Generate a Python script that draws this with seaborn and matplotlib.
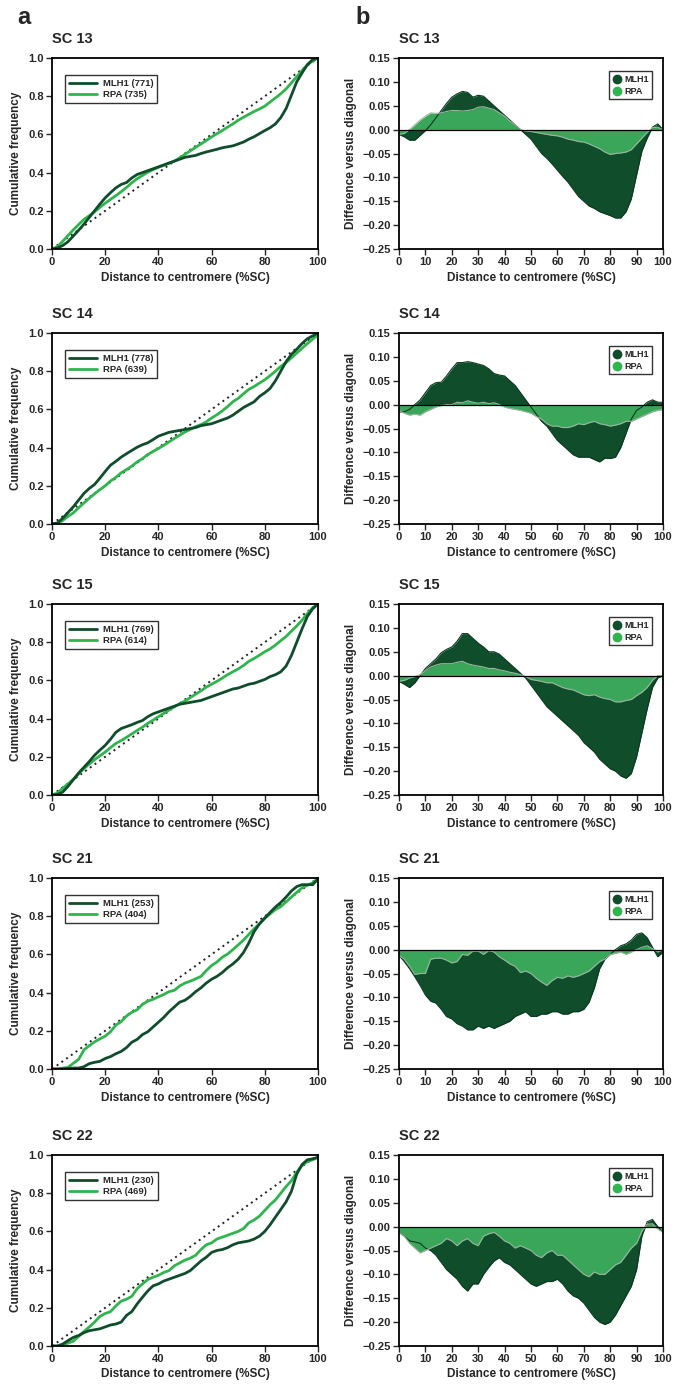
import numpy as np
import pandas as pd
import matplotlib
matplotlib.use('Agg')
import matplotlib.pyplot as plt
import seaborn as sns
from matplotlib.lines import Line2D
from matplotlib.ticker import FuncFormatter

sns.set_theme(style='ticks')
plt.rcParams['font.family'] = ['Liberation Sans', 'DejaVu Sans']
plt.rcParams['font.weight'] = 'bold'
plt.rcParams['axes.labelweight'] = 'bold'

# ==========================================
# data: difference versus diagonal, read every 2 %SC
# ==========================================
dist = list(range(0, 101, 2))

sc_names = ['SC 13', 'SC 14', 'SC 15', 'SC 21', 'SC 22']
n_mlh1 = [771, 778, 769, 253, 230]
n_rpa = [735, 639, 614, 404, 469]

sc13_mlh1 = [-0.010, -0.015, -0.022, -0.022, -0.012, -0.002, 0.010, 0.025, 0.040, 0.055,
             0.068, 0.075, 0.080, 0.078, 0.068, 0.072, 0.070, 0.060, 0.050, 0.040,
             0.030, 0.020, 0.010, 0.000, -0.010, -0.020, -0.035, -0.050, -0.060, -0.072,
             -0.085, -0.098, -0.110, -0.125, -0.140, -0.150, -0.160, -0.165, -0.172, -0.176,
             -0.180, -0.185, -0.185, -0.172, -0.145, -0.095, -0.045, -0.018, 0.005, 0.012, 0.000]
sc13_rpa = [-0.010, -0.008, 0.000, 0.010, 0.020, 0.028, 0.035, 0.034, 0.035, 0.038,
            0.040, 0.040, 0.039, 0.040, 0.042, 0.047, 0.048, 0.045, 0.042, 0.035,
            0.028, 0.018, 0.010, 0.000, -0.003, -0.004, -0.006, -0.008, -0.010, -0.012,
            -0.013, -0.016, -0.020, -0.022, -0.025, -0.026, -0.030, -0.035, -0.040, -0.047,
            -0.052, -0.050, -0.049, -0.047, -0.042, -0.030, -0.018, -0.006, 0.004, 0.005, 0.000]

sc14_mlh1 = [-0.015, -0.015, -0.010, 0.000, 0.010, 0.025, 0.040, 0.046, 0.047, 0.060,
             0.075, 0.088, 0.088, 0.090, 0.088, 0.085, 0.082, 0.075, 0.065, 0.062,
             0.060, 0.050, 0.040, 0.025, 0.010, -0.005, -0.020, -0.035, -0.045, -0.060,
             -0.075, -0.085, -0.095, -0.105, -0.110, -0.110, -0.110, -0.115, -0.120, -0.112,
             -0.113, -0.110, -0.090, -0.060, -0.030, -0.012, -0.005, 0.005, 0.010, 0.005, 0.005]
sc14_rpa = [-0.012, -0.018, -0.022, -0.020, -0.022, -0.015, -0.010, -0.005, -0.002, 0.000,
            0.000, 0.005, 0.004, 0.008, 0.005, 0.003, 0.005, 0.002, 0.004, 0.000,
            -0.005, -0.008, -0.010, -0.012, -0.015, -0.018, -0.025, -0.030, -0.040, -0.045,
            -0.045, -0.048, -0.048, -0.045, -0.040, -0.042, -0.038, -0.035, -0.040, -0.042,
            -0.045, -0.043, -0.040, -0.035, -0.035, -0.030, -0.025, -0.020, -0.015, -0.012, -0.010]

sc15_mlh1 = [-0.012, -0.018, -0.025, -0.015, 0.000, 0.015, 0.025, 0.035, 0.048, 0.055,
             0.060, 0.072, 0.088, 0.088, 0.078, 0.068, 0.060, 0.050, 0.050, 0.045,
             0.035, 0.025, 0.015, 0.005, -0.005, -0.020, -0.035, -0.050, -0.065, -0.075,
             -0.085, -0.095, -0.105, -0.115, -0.125, -0.140, -0.150, -0.160, -0.175, -0.185,
             -0.195, -0.200, -0.210, -0.215, -0.205, -0.170, -0.120, -0.070, -0.025, -0.005, 0.000]
sc15_rpa = [-0.012, -0.010, -0.005, -0.002, 0.002, 0.010, 0.018, 0.022, 0.025, 0.025,
            0.025, 0.028, 0.030, 0.025, 0.022, 0.020, 0.018, 0.015, 0.015, 0.012,
            0.010, 0.007, 0.005, 0.002, -0.002, -0.008, -0.010, -0.012, -0.015, -0.015,
            -0.020, -0.025, -0.028, -0.030, -0.035, -0.040, -0.042, -0.040, -0.045, -0.048,
            -0.050, -0.055, -0.055, -0.052, -0.050, -0.042, -0.035, -0.025, -0.010, 0.000, 0.000]

sc21_mlh1 = [-0.012, -0.025, -0.040, -0.057, -0.075, -0.095, -0.108, -0.112, -0.125, -0.140,
             -0.145, -0.155, -0.160, -0.168, -0.168, -0.160, -0.165, -0.160, -0.165, -0.160,
             -0.155, -0.150, -0.140, -0.135, -0.130, -0.140, -0.140, -0.135, -0.135, -0.130,
             -0.130, -0.135, -0.135, -0.130, -0.130, -0.125, -0.110, -0.080, -0.040, -0.020,
             -0.010, 0.000, 0.008, 0.012, 0.020, 0.032, 0.035, 0.025, 0.005, -0.015, -0.005]
sc21_rpa = [-0.012, -0.020, -0.035, -0.052, -0.050, -0.050, -0.020, -0.018, -0.018, -0.022,
            -0.028, -0.025, -0.010, -0.012, -0.003, -0.003, -0.010, -0.002, -0.005, -0.015,
            -0.022, -0.030, -0.035, -0.048, -0.045, -0.050, -0.060, -0.068, -0.075, -0.065,
            -0.058, -0.060, -0.055, -0.058, -0.055, -0.050, -0.045, -0.035, -0.025, -0.020,
            -0.010, -0.008, -0.005, -0.010, -0.005, 0.000, 0.005, 0.008, 0.002, -0.005, 0.000]

sc22_mlh1 = [-0.012, -0.020, -0.030, -0.032, -0.035, -0.045, -0.050, -0.060, -0.075, -0.090,
             -0.100, -0.110, -0.125, -0.135, -0.120, -0.120, -0.100, -0.085, -0.072, -0.065,
             -0.075, -0.080, -0.090, -0.100, -0.110, -0.120, -0.125, -0.120, -0.115, -0.115,
             -0.110, -0.120, -0.135, -0.145, -0.150, -0.160, -0.175, -0.190, -0.200, -0.205,
             -0.200, -0.185, -0.165, -0.145, -0.125, -0.090, -0.020, 0.010, 0.015, 0.000, -0.012]
sc22_rpa = [-0.012, -0.020, -0.035, -0.045, -0.055, -0.050, -0.045, -0.040, -0.035, -0.025,
            -0.030, -0.040, -0.030, -0.025, -0.035, -0.040, -0.020, -0.015, -0.012, -0.020,
            -0.030, -0.035, -0.045, -0.040, -0.045, -0.050, -0.060, -0.065, -0.055, -0.050,
            -0.060, -0.060, -0.070, -0.080, -0.090, -0.100, -0.105, -0.095, -0.100, -0.100,
            -0.090, -0.080, -0.075, -0.060, -0.045, -0.035, -0.010, 0.005, 0.006, -0.005, -0.012]

diff_mlh1 = [sc13_mlh1, sc14_mlh1, sc15_mlh1, sc21_mlh1, sc22_mlh1]
diff_rpa = [sc13_rpa, sc14_rpa, sc15_rpa, sc21_rpa, sc22_rpa]

# colours
c_mlh1 = '#0f4d2b'
c_rpa_line = '#2fb54d'
c_rpa_fill = '#3aa65a'
c_rpa_edge = '#9cb59f'

# ==========================================
# layout (pixel positions of the panels)
# ==========================================
W, H = 674, 1385
fig = plt.figure(figsize=(W / 100, H / 100), dpi=100)
row_tops = [58, 333, 604, 878, 1155]
ax_h = 191


def style_axes(ax):
    for s in ax.spines.values():
        s.set_color('black')
        s.set_linewidth(1.3)
    ax.tick_params(direction='out', length=4, width=1, labelsize=8, pad=2,
                   top=False, right=False)
    for lab in ax.get_xticklabels() + ax.get_yticklabels():
        lab.set_fontweight('bold')


for i, name in enumerate(sc_names):
    x = np.array(dist, dtype=float)
    d_m = np.array(diff_mlh1[i])
    d_r = np.array(diff_rpa[i])
    df = pd.DataFrame({
        'dist': np.concatenate([x, x]),
        'diff': np.concatenate([d_m, d_r]),
        'protein': ['MLH1'] * len(x) + ['RPA'] * len(x),
    })
    df['cum'] = (df['dist'] / 100 + df['diff']).clip(0, 1)

    bottom = 1 - (row_tops[i] + ax_h) / H

    # ---- a: cumulative frequency ----
    axa = fig.add_axes([52 / W, bottom, 266 / W, ax_h / H])
    axa.plot([0, 100], [0, 1], ls=(0, (1, 2)), color='#222222', lw=1.4)
    sns.lineplot(data=df, x='dist', y='cum', hue='protein',
                 palette={'MLH1': c_mlh1, 'RPA': c_rpa_line},
                 hue_order=['RPA', 'MLH1'], lw=2, legend=False, ax=axa)
    axa.set_xlim(0, 100)
    axa.set_ylim(0, 1)
    axa.set_xticks(range(0, 101, 20))
    axa.set_yticks(np.arange(0, 1.01, 0.2))
    axa.yaxis.set_major_formatter(FuncFormatter(lambda v, p: f'{v:.1f}'))
    axa.set_xlabel('Distance to centromere (%SC)', fontsize=8.5, labelpad=3)
    axa.set_ylabel('Cumulative frequency', fontsize=8.5, labelpad=4)
    style_axes(axa)
    handles = [Line2D([], [], color=c_mlh1, lw=2), Line2D([], [], color=c_rpa_line, lw=2)]
    leg = axa.legend(handles, [f'MLH1 ({n_mlh1[i]})', f'RPA ({n_rpa[i]})'],
                     loc='upper left', bbox_to_anchor=(0.05, 0.91), borderaxespad=0,
                     frameon=True, fancybox=False, edgecolor='black', fontsize=6.8,
                     handlelength=3.0, handletextpad=0.6, borderpad=0.4, labelspacing=0.25)
    leg.get_frame().set_linewidth(1.0)
    for t in leg.get_texts():
        t.set_fontweight('bold')
    axa.text(0, 1.08, name, transform=axa.transAxes, ha='left', va='baseline',
             fontsize=10.5, fontweight='bold')

    # ---- b: difference versus diagonal ----
    axb = fig.add_axes([399 / W, bottom, 264 / W, ax_h / H])
    axb.fill_between(x, 0, d_m, color=c_mlh1, lw=0)
    sns.lineplot(x=x, y=d_m, color='#0a3a20', lw=0.8, ax=axb)
    axb.fill_between(x, 0, d_r, color=c_rpa_fill, lw=0)
    sns.lineplot(x=x, y=d_r, color=c_rpa_edge, lw=0.8, ax=axb)
    axb.axhline(0, color='black', lw=0.9)
    axb.set_xlim(0, 100)
    axb.set_ylim(-0.25, 0.15)
    axb.set_xticks(range(0, 101, 10))
    axb.set_yticks(np.arange(-0.25, 0.151, 0.05))
    axb.yaxis.set_major_formatter(
        FuncFormatter(lambda v, p: f'{v:.2f}'.replace('-', '\u2212') if abs(v) > 1e-9 else '0.00'))
    axb.set_xlabel('Distance to centromere (%SC)', fontsize=8.5, labelpad=3)
    axb.set_ylabel('Difference versus diagonal', fontsize=8.5, labelpad=4)
    style_axes(axb)
    handles_b = [Line2D([], [], marker='o', ls='', color=c_mlh1, markersize=6),
                 Line2D([], [], marker='o', ls='', color=c_rpa_line, markersize=6)]
    legb = axb.legend(handles_b, ['MLH1', 'RPA'], loc='upper right',
                      bbox_to_anchor=(0.96, 0.93), borderaxespad=0,
                      frameon=True, fancybox=False, edgecolor='black', fontsize=6.5,
                      handlelength=1.0, handletextpad=0.3, borderpad=0.4, labelspacing=0.3)
    legb.get_frame().set_linewidth(1.0)
    for t in legb.get_texts():
        t.set_fontweight('bold')
    axb.text(0, 1.08, name, transform=axb.transAxes, ha='left', va='baseline',
             fontsize=10.5, fontweight='bold')

fig.text(17 / W, 1 - 24 / H, 'a', fontsize=17, fontweight='bold', ha='left', va='baseline')
fig.text(355 / W, 1 - 24 / H, 'b', fontsize=17, fontweight='bold', ha='left', va='baseline')

fig.savefig('out.png', dpi=100, facecolor='white')
